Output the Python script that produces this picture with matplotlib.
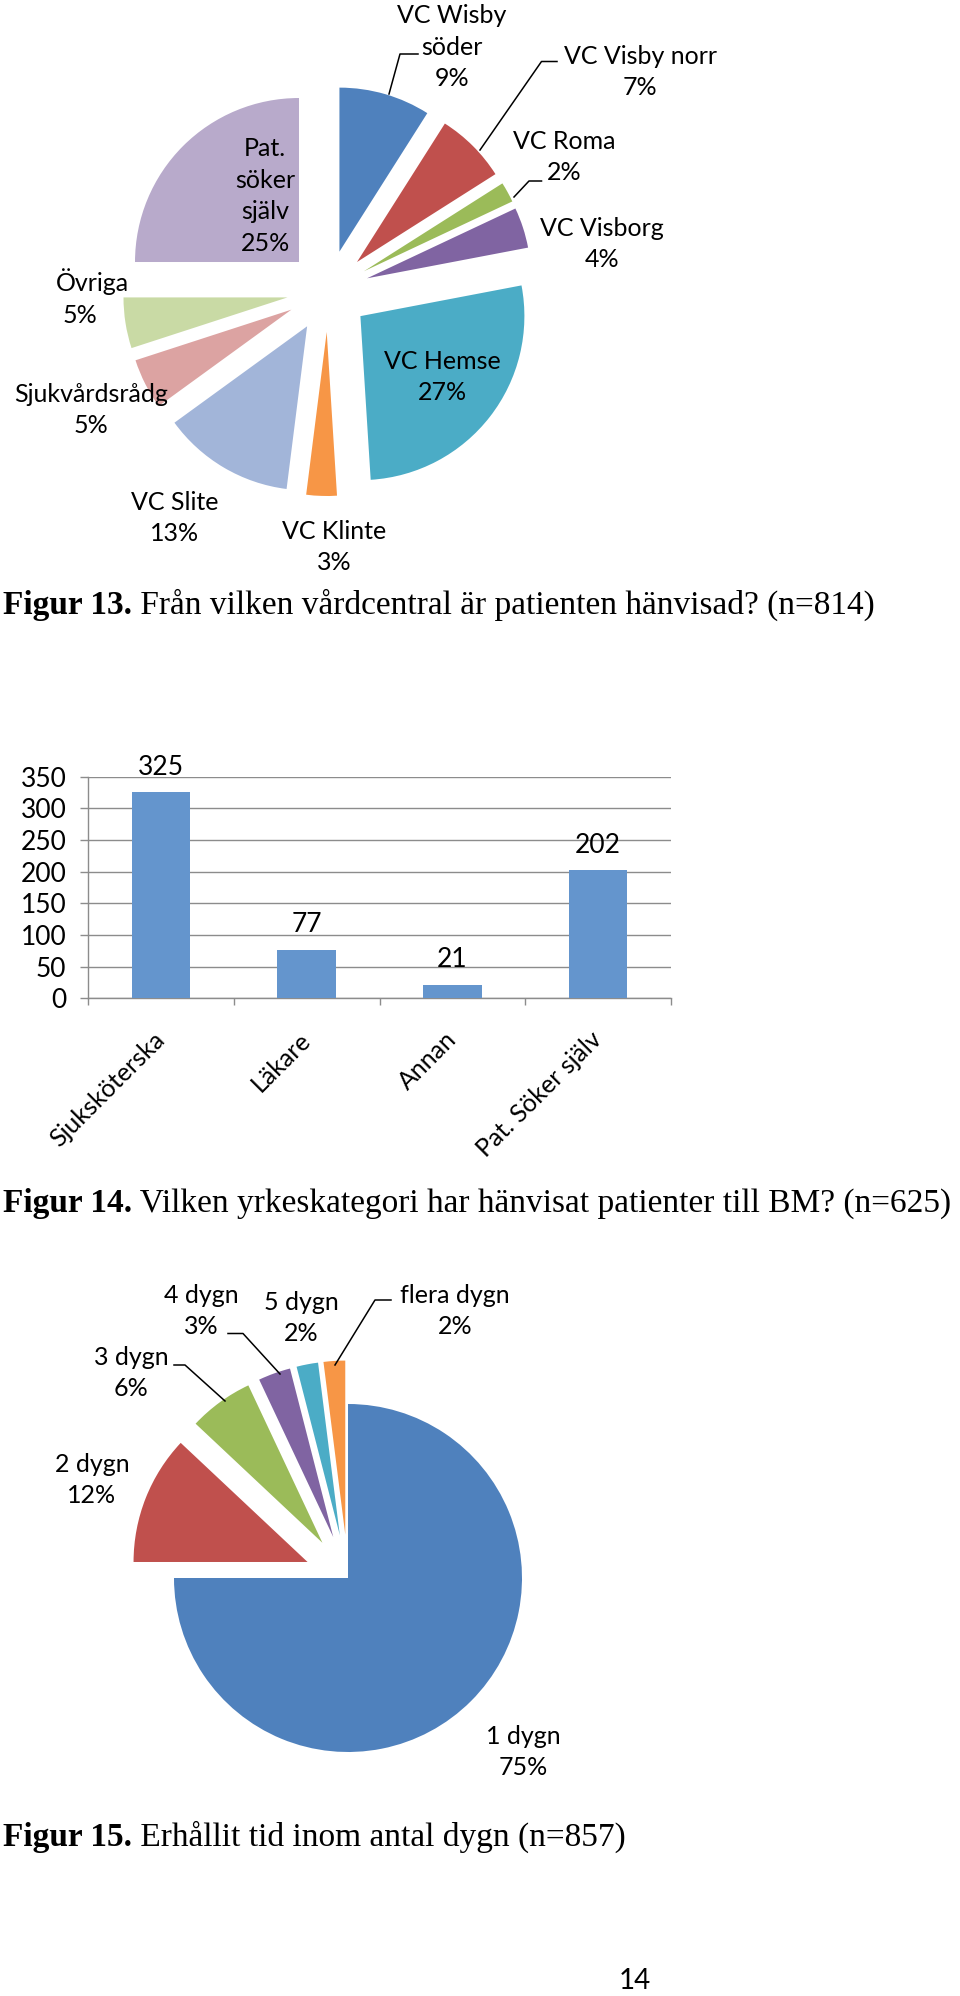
import matplotlib
matplotlib.use("Agg")
import matplotlib.pyplot as plt

W, H = 960, 1996
LABEL_FONT = "Lato"
SERIF = "Liberation Serif"
FS = 18
FS_BAR = 19

# ---------------- data ----------------
vc_names = ["VC Wisby\nsöder", "VC Visby norr", "VC Roma", "VC Visborg", "VC Hemse",
            "VC Klinte", "VC Slite", "Sjukvårdsrådg", "Övriga", "Pat.\nsöker\nsjälv"]
vc_pct = [9, 7, 2, 4, 27, 3, 13, 5, 5, 25]
vc_colors = ["#4F81BD", "#C0504D", "#9BBB59", "#8064A2", "#4BACC6",
             "#F79646", "#A2B5D9", "#DCA3A2", "#C9DAA5", "#B8AACB"]

yrke_cats = ["Sjuksköterska", "Läkare", "Annan", "Pat. Söker själv"]
yrke_vals = [325, 77, 21, 202]
y_ticks = [0, 50, 100, 150, 200, 250, 300, 350]

dygn_names = ["1 dygn", "2 dygn", "3 dygn", "4 dygn", "5 dygn", "flera dygn"]
dygn_pct = [75, 12, 6, 3, 2, 2]
dygn_colors = ["#4F81BD", "#C0504D", "#9BBB59", "#8064A2", "#4BACC6", "#F79646"]

captions = [("Figur 13.", " Från vilken vårdcentral är patienten hänvisad? (n=814)"),
            ("Figur 14.", " Vilken yrkeskategori har hänvisat patienter till BM? (n=625)"),
            ("Figur 15.", " Erhållit tid inom antal dygn (n=857)")]
page_number = "14"

# ---------------- layout (pixels) ----------------
fig = plt.figure(figsize=(W / 100, H / 100), dpi=100)
fig.patch.set_facecolor("white")


def pie_axes(cx, cy, r, box):
    x0, y0, x1, y1 = box
    ax = fig.add_axes([x0 / W, 1 - y1 / H, (x1 - x0) / W, (y1 - y0) / H])
    return ax, ((x0 - cx) / r, (x1 - cx) / r), ((cy - y1) / r, (cy - y0) / r)


# Top pie
ax1, xl, yl = pie_axes(328, 291, 164, (0, 0, 960, 580))
ax1.pie(vc_pct, colors=vc_colors, startangle=90, counterclock=False,
        explode=[0.25] * len(vc_pct), radius=1, wedgeprops=dict(linewidth=0))
ax1.set_xlim(*xl); ax1.set_ylim(*yl); ax1.set_aspect("auto"); ax1.axis("off")

# Bottom pie
ax3, xl, yl = pie_axes(348, 1578, 174, (0, 1250, 960, 1800))
ax3.pie(dygn_pct, colors=dygn_colors, startangle=90, counterclock=False,
        explode=[0] + [0.25] * (len(dygn_pct) - 1), radius=1,
        wedgeprops=dict(linewidth=0))
ax3.set_xlim(*xl); ax3.set_ylim(*yl); ax3.set_aspect("auto"); ax3.axis("off")

# Bar chart
bx0, bx1, by0, by1 = 88, 671, 776.6, 998.3
ax2 = fig.add_axes([bx0 / W, 1 - by1 / H, (bx1 - bx0) / W, (by1 - by0) / H])
xpos = list(range(len(yrke_cats)))
ax2.bar(xpos, yrke_vals, width=0.4, color="#6495CD", zorder=3)
ax2.set_xlim(-0.5, len(yrke_cats) - 0.5)
ax2.set_ylim(0, 350)
ax2.set_yticks(y_ticks)
ax2.set_yticklabels([str(t) for t in y_ticks], fontsize=FS_BAR, family=LABEL_FONT)
ax2.yaxis.grid(True, color="#8C8C8C", linewidth=1.0, zorder=0)
ax2.set_xticks(xpos)
ax2.set_xticklabels(yrke_cats, rotation=45, ha="right", va="center",
                    rotation_mode="anchor", fontsize=FS, family=LABEL_FONT)
ax2.set_xticks([i - 0.5 for i in range(len(yrke_cats) + 1)], minor=True)
ax2.tick_params(axis="x", which="major", length=0, pad=27)
ax2.tick_params(axis="x", which="minor", length=5, width=1.0, color="#8C8C8C", direction="out")
ax2.tick_params(axis="y", length=5.5, width=1.0, color="#8C8C8C", direction="out", pad=10)
for s in ["top", "right"]:
    ax2.spines[s].set_visible(False)
for s in ["left", "bottom"]:
    ax2.spines[s].set_color("#8C8C8C")
    ax2.spines[s].set_linewidth(1.0)
ax2.set_axisbelow(True)
for i, v in enumerate(yrke_vals):
    ax2.annotate(str(v), (i, v), xytext=(0, 9), textcoords="offset points",
                 ha="center", va="bottom", fontsize=FS_BAR, family=LABEL_FONT)

# Overlay for labels, leaders and captions (pixel coordinates)
ov = fig.add_axes([0, 0, 1, 1], zorder=10)
ov.set_xlim(0, W); ov.set_ylim(H, 0); ov.axis("off"); ov.patch.set_alpha(0)

LS = 1.45
top_label_pos = [(452, 47), (640, 72), (564, 157), (602, 244), (442, 377),
                 (334, 547), (175, 518), (91, 410), None, (265, 196)]
for name, pct, pos in zip(vc_names, vc_pct, top_label_pos):
    if pos is None:
        continue
    ov.text(pos[0], pos[1], f"{name}\n{pct}%", ha="center", va="center",
            fontsize=FS, family=LABEL_FONT, linespacing=LS)
# Övriga label (lines offset as in reference)
ov.text(92, 282, vc_names[8], ha="center", va="center", fontsize=FS, family=LABEL_FONT)
ov.text(80, 315, f"{vc_pct[8]}%", ha="center", va="center", fontsize=FS, family=LABEL_FONT)

top_leaders = [[(418, 54), (400, 54), (389, 94)],
               [(557, 61.5), (541.5, 61.5), (480, 150)],
               [(541.5, 181), (529, 181), (514, 197)]]
for pts in top_leaders:
    ov.plot([p[0] for p in pts], [p[1] for p in pts], color="black", lw=1.1)

bottom_label_pos = [(523, 1752), (92, 1480), (131, 1373), (201, 1311), (301, 1318), (455, 1311)]
for name, pct, pos in zip(dygn_names, dygn_pct, bottom_label_pos):
    ov.text(pos[0], pos[1], f"{name}\n{pct}%", ha="center", va="center",
            fontsize=FS, family=LABEL_FONT, linespacing=LS)
bottom_leaders = [[(174, 1365), (185, 1365), (225, 1401)],
                  [(228, 1333.5), (243, 1333.5), (280, 1374)],
                  [(391, 1300), (375, 1300), (335, 1365)]]
for pts in bottom_leaders:
    ov.plot([p[0] for p in pts], [p[1] for p in pts], color="black", lw=1.1)

# Captions
renderer = fig.canvas.get_renderer()
cap_baselines = [614, 1212, 1846]
for (bold, rest), yb in zip(captions, cap_baselines):
    t = ov.text(3, yb, bold, ha="left", va="baseline", fontsize=24,
                family=SERIF, fontweight="bold")
    bb = t.get_window_extent(renderer=renderer)
    ov.text(3 + bb.width, yb, rest, ha="left", va="baseline", fontsize=24, family=SERIF)

ov.text(635, 1981, page_number, ha="center", va="center", fontsize=20, family=LABEL_FONT)

fig.savefig("out.png", dpi=100)
